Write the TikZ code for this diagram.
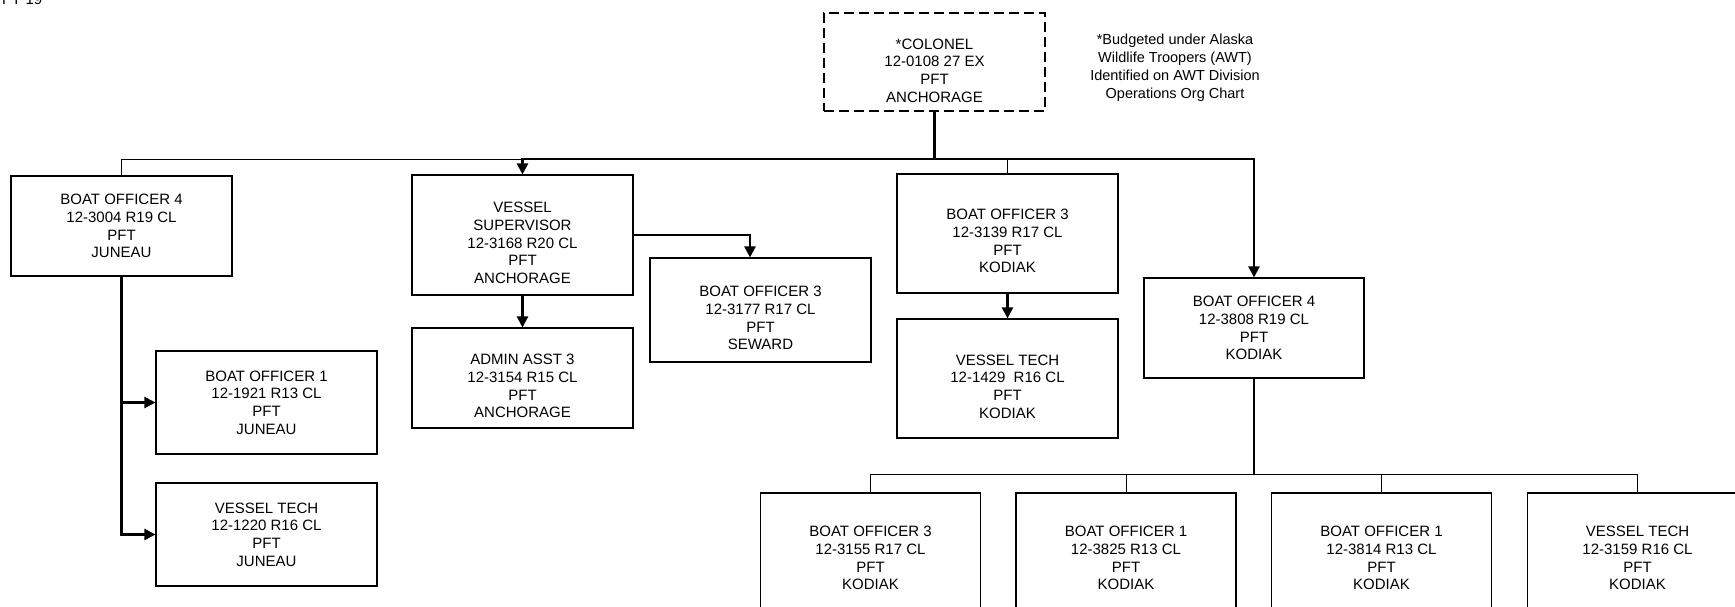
\documentclass[tikz,border=0pt]{standalone}
\usepackage{fontspec}
\setmainfont{Liberation Sans}
\usetikzlibrary{arrows.meta,calc}
\begin{document}
\begin{tikzpicture}[x=1pt,y=-1pt,
  box/.style={draw,line width=1.1pt,rectangle,minimum width=221pt,inner sep=0pt,align=center,font=\fontsize{15}{17.7}\selectfont},
  boxr/.style={draw,line width=1.1pt,rectangle,minimum width=221pt,inner sep=0pt},
  txt/.style={inner sep=0pt,align=center,font=\fontsize{15}{17.7}\selectfont},
  thinln/.style={line width=1pt},
  thickln/.style={line width=2.2pt},
  arr/.style={-{Triangle[length=11pt,width=11pt]}},
]
\useasboundingbox (0,0) rectangle (1735,606);
\coordinate (busy) at (0,159);
\coordinate (bus2) at (0,474);

\node[anchor=base west,inner sep=0pt,font=\fontsize{15}{18}\selectfont] (fy) at (2,4.5) {FY 19};

\node[boxr,dash pattern=on 10pt off 5pt,minimum height=98pt] (col) at (934.5,62) {};
\node[txt] (col-t) at ([yshift=-8.5pt]col.center) {*COLONEL\\12-0108 27 EX\\PFT\\ANCHORAGE};
\node[txt,font=\fontsize{14.5}{18}\selectfont] (note) at (1175,68) {*Budgeted under Alaska\\Wildlife Troopers (AWT)\\Identified on AWT Division\\Operations Org Chart};

\node[box,minimum height=100pt] (bo4j) at (121.5,226) {BOAT OFFICER 4\\12-3004 R19 CL\\PFT\\JUNEAU};
\node[box,minimum height=103pt] (bo1j) at (266.5,402.5) {BOAT OFFICER 1\\12-1921 R13 CL\\PFT\\JUNEAU};
\node[box,minimum height=103pt] (vtj) at (266.5,534.5) {VESSEL TECH\\12-1220 R16 CL\\PFT\\JUNEAU};

\node[boxr,minimum height=120pt] (vs) at (522.5,235) {};
\node[txt] (vs-t) at ([yshift=-8pt]vs.center) {VESSEL\\SUPERVISOR\\12-3168 R20 CL\\PFT\\ANCHORAGE};
\node[boxr,minimum height=100pt] (aa3) at (522.5,378) {};
\node[txt] (aa3-t) at ([yshift=-8pt]aa3.center) {ADMIN ASST 3\\12-3154 R15 CL\\PFT\\ANCHORAGE};
\node[boxr,minimum height=104pt] (bo3s) at (760.5,310) {};
\node[txt] (bo3s-t) at ([yshift=-8pt]bo3s.center) {BOAT OFFICER 3\\12-3177 R17 CL\\PFT\\SEWARD};

\node[boxr,minimum height=119pt] (bo3k) at (1007.5,233.5) {};
\node[txt] (bo3k-t) at ([yshift=-7.5pt]bo3k.center) {BOAT OFFICER 3\\12-3139 R17 CL\\PFT\\KODIAK};
\node[boxr,minimum height=119pt] (vtk) at (1007.5,378.5) {};
\node[txt] (vtk-t) at ([yshift=-8pt]vtk.center) {VESSEL TECH\\12-1429~ R16 CL\\PFT\\KODIAK};
\node[box,minimum height=100pt,minimum width=220pt] (bo4k) at (1254,328) {BOAT OFFICER 4\\12-3808 R19 CL\\PFT\\KODIAK};

\node[box,minimum height=130pt,minimum width=220pt] (k1) at (870.5,558) {BOAT OFFICER 3\\12-3155 R17 CL\\PFT\\KODIAK};
\node[box,minimum height=130pt,minimum width=220pt] (k2) at (1126,558) {BOAT OFFICER 1\\12-3825 R13 CL\\PFT\\KODIAK};
\node[box,minimum height=130pt,minimum width=220pt] (k3) at (1381.5,558) {BOAT OFFICER 1\\12-3814 R13 CL\\PFT\\KODIAK};
\node[box,minimum height=130pt,minimum width=220pt] (k4) at (1637.5,558) {VESSEL TECH\\12-3159 R16 CL\\PFT\\KODIAK};

% colonel connectors
\draw[thinln] (col.south) -- (col.south |- busy) -| (bo4j.north);
\draw[thinln] (col.south) -- (col.south |- busy) -| (bo3k.north);
\draw[thickln,arr] (col.south) -- (col.south |- busy) -| (vs.north);
\draw[thickln,arr] (col.south) -- (col.south |- busy) -| (bo4k.north);

% Juneau
\draw[thickln,arr] (bo4j.south) |- (bo1j.west);
\draw[thickln,arr] (bo4j.south) |- (vtj.west);

% Anchorage
\draw[thickln,arr] (vs.south) -- (aa3.north);
\draw[thickln,arr] (vs.east) -| ([xshift=-10.5pt]bo3s.north);

% Kodiak
\draw[thickln,arr] (bo3k.south) -- (vtk.north);
\draw[thickln] (bo4k.south) -- (bo4k.south |- bus2);
\draw[thinln] (bo4k.south |- bus2) -| (k1.north);
\draw[thinln] (bo4k.south |- bus2) -| (k2.north);
\draw[thinln] (bo4k.south |- bus2) -| (k3.north);
\draw[thinln] (bo4k.south |- bus2) -| (k4.north);
\end{tikzpicture}
\end{document}
